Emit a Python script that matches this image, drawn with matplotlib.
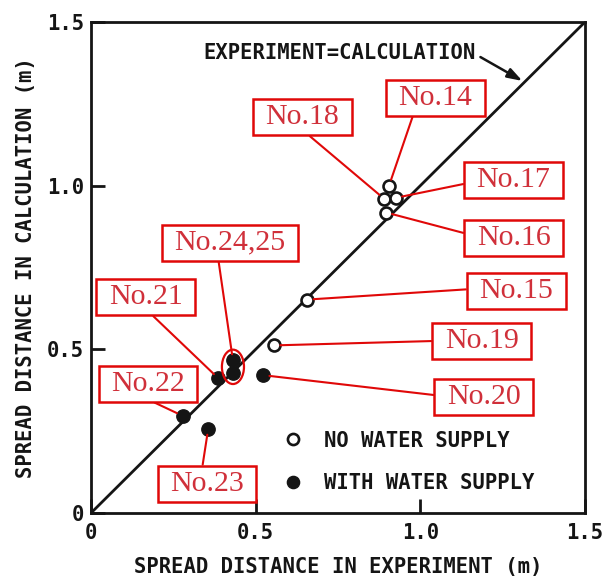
import matplotlib
matplotlib.use("Agg")
import matplotlib.pyplot as plt
from matplotlib.lines import Line2D
from matplotlib.patches import Ellipse

# Spread distance: experiment vs. calculation (m)
labels_dry = ["No.14", "No.18", "No.17", "No.16", "No.15", "No.19"]
exp_dry = [0.905, 0.890, 0.926, 0.896, 0.657, 0.556]
calc_dry = [1.000, 0.960, 0.963, 0.918, 0.652, 0.512]

labels_wet = ["No.20", "No.21", "No.22", "No.23", "No.24", "No.25"]
exp_wet = [0.523, 0.387, 0.278, 0.356, 0.431, 0.431]
calc_wet = [0.421, 0.411, 0.297, 0.258, 0.466, 0.427]

ticks = [0, 0.5, 1.0, 1.5]
tick_labels = ["0", "0.5", "1.0", "1.5"]

# callout placement: text, anchored point, box centre (data), line start on box (relpos)
callouts = [
    ("No.14", "No.14", (1.045, 1.267), (0.22, 0.0)),
    ("No.18", "No.18", (0.641, 1.209), (0.51, 0.0)),
    ("No.17", "No.17", (1.283, 1.018), (0.0, 0.44)),
    ("No.16", "No.16", (1.283, 0.841), (0.0, 0.55)),
    ("No.15", "No.15", (1.291, 0.677), (0.0, 0.61)),
    ("No.19", "No.19", (1.186, 0.524), (0.0, 0.53)),
    ("No.20", "No.20", (1.193, 0.355), (0.0, 0.51)),
    ("No.24,25", "No.24", (0.422, 0.826), (0.39, 0.0)),
    ("No.21", "No.21", (0.166, 0.659), (0.52, 0.0)),
    ("No.22", "No.22", (0.173, 0.395), (0.42, 0.0)),
    ("No.23", "No.23", (0.352, 0.090), (0.43, 1.0)),
]

MONO = "DejaVu Sans Mono"
SERIF = "Liberation Serif"
INK = "#151515"
RED_TXT = "#d0303a"
RED_BOX = "#e00808"

fig = plt.figure(figsize=(6.04, 5.79), dpi=100)
ax = fig.add_axes([0.1507, 0.114, 0.8178, 0.848])
ax.set_xlim(0, 1.5)
ax.set_ylim(0, 1.5)

for s in ax.spines.values():
    s.set_linewidth(2.0)
    s.set_color(INK)

ax.set_xticks(ticks)
ax.set_yticks(ticks)
ax.set_xticklabels(tick_labels, fontfamily=MONO, fontweight="bold", fontsize=14.8)
ax.set_yticklabels(tick_labels, fontfamily=MONO, fontweight="bold", fontsize=14.8)
ax.tick_params(axis="both", direction="in", length=10, width=2, color=INK,
               labelcolor=INK)
ax.tick_params(axis="x", pad=7.5)
ax.tick_params(axis="y", pad=5)

ax.set_xlabel("SPREAD DISTANCE IN EXPERIMENT (m)", fontfamily=MONO,
              fontweight="bold", fontsize=14.8, color=INK, labelpad=10)
ax.set_ylabel("SPREAD DISTANCE IN CALCULATION (m)", fontfamily=MONO,
              fontweight="bold", fontsize=14.8, color=INK, labelpad=8)

# 1:1 line
ax.plot([0, 1.5], [0, 1.5], color=INK, lw=2.0, zorder=2)
ax.annotate("EXPERIMENT=CALCULATION", xy=(1.31, 1.32), xytext=(0.340, 1.405),
            fontfamily=MONO, fontweight="bold", fontsize=14.8, color=INK,
            ha="left", va="center",
            arrowprops=dict(arrowstyle="-|>,head_length=0.6,head_width=0.2",
                            color=INK, lw=1.8, relpos=(1.0, 0.45),
                            shrinkA=2, shrinkB=0))

ax.plot(exp_dry, calc_dry, linestyle="none", marker="o", ms=8.6, mew=1.9,
        mec=INK, mfc="white", zorder=4)
ax.plot(exp_wet, calc_wet, linestyle="none", marker="o", ms=9.6, mew=1.0,
        mec=INK, mfc=INK, zorder=4)

# ring around the coincident pair No.24 / No.25
i24, i25 = labels_wet.index("No.24"), labels_wet.index("No.25")
ax.add_patch(Ellipse(((exp_wet[i24] + exp_wet[i25]) / 2,
                      (calc_wet[i24] + calc_wet[i25]) / 2),
                     width=0.067, height=0.105, fill=False,
                     edgecolor=RED_BOX, lw=1.6, zorder=5))

points = dict(zip(labels_dry + labels_wet,
                  zip(exp_dry + exp_wet, calc_dry + calc_wet)))

for text, target, box_xy, rel in callouts:
    ax.annotate(text, xy=points[target], xytext=box_xy,
                fontfamily=SERIF, fontsize=21.5, color=RED_TXT,
                ha="center", va="center", zorder=6,
                bbox=dict(boxstyle="square,pad=0.42", fc="white",
                          ec=RED_BOX, lw=1.8, mutation_aspect=0.4),
                arrowprops=dict(arrowstyle="-", color=RED_BOX, lw=1.5,
                                relpos=rel, shrinkA=0, shrinkB=4.5))

handles = [
    Line2D([], [], linestyle="none", marker="o", ms=8.0, mew=1.9,
           mec=INK, mfc="white"),
    Line2D([], [], linestyle="none", marker="o", ms=8.8, mew=1.0,
           mec=INK, mfc=INK),
]
ax.legend(handles, ["NO WATER SUPPLY", "WITH WATER SUPPLY"],
          loc="upper left", bbox_to_anchor=(0.389, 0.168), frameon=False,
          borderpad=0, borderaxespad=0, handlelength=1.0, handletextpad=0.98,
          labelspacing=1.1,
          prop=dict(family=MONO, weight="bold", size=14.8), labelcolor=INK)

fig.savefig("out.png", dpi=100, facecolor="white")
